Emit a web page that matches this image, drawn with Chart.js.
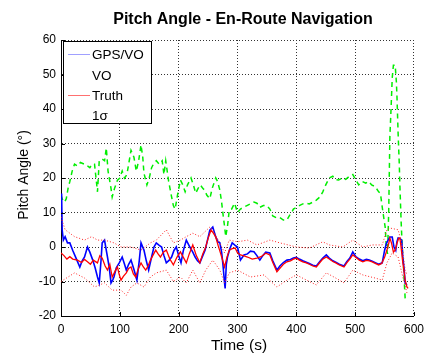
<!DOCTYPE html>
<html>
<head>
<meta charset="utf-8">
<script src="https://cdn.jsdelivr.net/npm/chart.js@4/dist/chart.umd.min.js"></script>
<style>
  html, body { margin: 0; padding: 0; background: #fff; }
  #wrap { width: 430px; height: 361px; }
</style>
</head>
<body>
<div id="wrap"><canvas id="c" width="430" height="361"></canvas></div>
<script>
// Pitch angle during en-route navigation (degrees vs seconds)
const xTicks = [0, 100, 200, 300, 400, 500, 600];
const yTicks = [-20, -10, 0, 10, 20, 30, 40, 50, 60];
const legendLabels = ['GPS/VO', 'VO', 'Truth', '1\u03c3'];

// Truth
const truthT = [0,5,10,15,20,28,35,40,45,50,55,62,66,70,75,79,83,87,92,96,99,102,106,111,115,119,123,127,131,136,140,144,148,152,156,161,165,169,174,179,185,191,197,203,208,213,218,224,230,236,241,246,250,255,259,263,267,271,275,278,282,286,291,296,300,305,311,317,325,333,340,348,355,360,367,372,378,384,390,395,400,405,411,417,422,428,434,440,445,451,456,462,467,473,481,486,491,496,501,507,513,519,524,529,535,540,545,550,554,557,559,562,565,568,571,574,576,578,581,583,585,588,590];
const truthV = [-1.7,-2.5,-3.5,-2.8,-3.5,-3.8,-4.5,-3.6,-4.3,-5,-3.8,-4.6,-2.5,-3.2,-5.5,-6.7,-5,-8.7,-7,-5.8,-8,-9.6,-8.5,-7.5,-6.2,-5.8,-7.8,-8.7,-6.5,-4.6,-5.8,-6.7,-5.5,-3.8,-2.5,-0.9,-2,-2.9,-1.5,-0.9,-3.5,-5.2,-3,-1.4,-3,-4.6,-2,0.6,-2.5,-4.6,-2,0,2.5,4.9,4,2.9,0.5,-1.7,-4,-5.8,-3,-0.9,-0.5,-0.3,-1.7,-2.3,-2.6,-2.9,-3.5,-3.2,-2.8,-1.8,-2.3,-4.5,-7.2,-6.2,-5,-4.3,-4,-3.5,-3.2,-3.8,-4.3,-4.6,-5,-5.5,-5.8,-4.5,-3.5,-2.9,-3.5,-4.2,-4.6,-5.2,-5.8,-4.5,-3.5,-2.3,-3,-3.8,-4.3,-3.9,-4,-4.3,-4.8,-5.2,-4.8,-3,-0.9,1,2.6,1,-1.5,-0.9,1,2.6,2.6,0,-4.6,-7,-9.6,-11.6,-12];

// GPS/VO estimate
const gpsT = [1,2,4,7,11,15,20,25,32,36,40,45,49,54,58,62,65,68,70,74,76,79,82,85,88,90,94,99,104,108,111,115,119,124,129,133,136,141,145,149,154,158,162,167,171,175,179,184,188,192,196,200,204,208,213,219,224,228,232,236,241,245,249,253,258,263,267,270,273,275,278,279,281,283,287,291,296,300,305,311,317,322,328,333,338,343,348,355,360,367,372,378,384,390,395,400,405,411,417,422,428,434,440,445,451,456,462,467,473,481,486,491,496,501,507,513,519,524,529,535,540,546,550,553,556,559,563,566,569,571,573,576,579,581,583,585,588];
const gpsV = [15.5,5,2,3,1.2,1.2,-1,-3,-5.8,-4,-2.9,0,-1.5,-3.8,-6,-8.7,-10.4,-4,1.2,2,0,-2.9,-6,-10.4,-9.5,-8.7,-6,-4.6,-2.9,-5,-6.7,-5,-3.8,-6.5,-9.6,-4,1.2,-0.9,-4,-6.7,-2.9,0,1.2,0.5,0,-2.5,-4.6,-3.8,-2.9,-1,0,-2.5,-4.6,-1,2,0,-1.5,-2.9,-4,-4.6,-2.5,-0.9,2,4.9,5.8,2.9,1.5,1.2,-1.5,-4.6,-10.4,-12,-5,-2.9,-0.5,1.2,0.5,0,-3.8,-2.3,-2,-1.2,-1.4,-2.5,-3.8,-2.5,-1.5,-1.7,-4,-6.7,-5.5,-4.5,-3.8,-3.6,-3.2,-3,-3.5,-4,-4.4,-4.8,-5.3,-5.5,-4.2,-3.2,-2.3,-3.2,-4,-4.4,-5,-5.5,-4.2,-3.2,-1.4,-2.8,-3.5,-4,-3.6,-3.8,-4.1,-4.6,-5,-4.6,-1,1,2,2.9,2.9,0,-1,1.5,2.6,2.5,2,-3,-6,-10.4,-11];

// VO only
const voT = [0,3,6,9,12,15,19,23,28,33,40,45,49,53,57,62,65,70,74,77,80,82,85,87,91,96,100,104,108,112,116,119,124,128,132,136,139,141,146,150,154,157,162,167,172,175,178,183,188,191,194,198,203,207,211,215,221,225,229,233,237,241,244,248,253,257,263,266,270,273,275,278,280,283,286,290,295,300,305,310,316,322,328,333,338,344,350,355,360,367,372,378,384,388,392,395,400,405,411,417,422,428,434,440,445,450,456,462,467,472,478,484,490,496,501,506,512,518,523,528,534,540,543,546,549,551,553,555,557,559,561,563,565,568,570,571,573,575,576,578,580,582,585,587];
const voV = [15,13.6,13,14,17,19,22,24,23.5,24.5,24,23.5,23,24,24,16,25,25.5,25,28.7,22,20,17,14.5,17,19.4,20,22,20,21,25,28,26,22,25,29.6,26,21.4,18,20,23,24,25,24,25,21,25,19,14.5,12,11,15,19.4,18,16,18,20,18,15.6,17,18,17,16.5,15,14,17,20,19,16.5,13,10,6,3,6,10.7,11,12.7,10,11,11.5,12,12.5,13,12.7,11.5,12,12,11,9,8.4,8.5,7.8,7.8,9,10,11,11.5,12,12.5,12.7,12.5,13,13.6,14.5,16,18,20,20.5,19.5,19.4,20,19.6,20.5,21,19.5,18,19,18.5,19,18,17.5,16,15.5,11.6,8,5.8,0,-2,10,32,40,49,52.7,52.7,48,44,33,24,18,8,0,-5,-15,-16];

// 1-sigma bounds
const sigUpT = [0,7,23,40,52,62,74,90,102,119,136,152,162,179,191,203,213,224,236,253,258,270,278,286,300,317,333,355,372,400,422,445,456,479,496,513,529,546,554,559,573,579,585,588];
const sigUpV = [8.7,5,3,2,3,2,2,1.2,0,0,-0.9,1.2,2,5,1.2,2,3,4,3,5.8,5,1.2,-1.7,2,1.5,2,0.6,2,1.2,0,-0.3,1.5,0.6,0,2,0,0.6,0.6,5,5.5,5,1.2,-6.7,-8];
const sigLoT = [0,12,23,40,57,74,87,102,111,119,129,141,152,162,179,191,203,213,224,236,246,258,270,278,286,300,322,345,367,384,400,422,434,451,467,481,496,513,534,546,554,563,573,581,588];
const sigLoV = [-10,-8.7,-7.5,-9,-11.6,-10.4,-12.5,-12.5,-14,-11.6,-10.4,-11.6,-8.7,-7.5,-6.7,-10,-8.7,-10.4,-6.7,-10.4,-6.7,-3.8,-6.7,-10.4,-7.5,-6.7,-8.7,-8.1,-11.6,-9.6,-8.1,-10,-11,-7.5,-9,-10.4,-6.7,-8.1,-9,-9.6,-4.6,-1.7,-2.9,-8.7,-13.3];

const pts = (t, v) => t.map((x, i) => ({ x: x, y: v[i] }));
const FONT = '"Liberation Sans", Arial, Helvetica, sans-serif';

// Titles, inward tick marks and the legend box
const decor = {
  id: 'decor',
  afterDraw(chart) {
    const ctx = chart.ctx;
    const a = chart.chartArea;
    const xs = chart.scales.x, ys = chart.scales.y;
    ctx.save();
    // inward tick marks
    ctx.strokeStyle = '#000';
    ctx.lineWidth = 1;
    ctx.beginPath();
    yTicks.forEach(v => {
      const y = Math.round(ys.getPixelForValue(v)) + 0.5;
      ctx.moveTo(a.left, y); ctx.lineTo(a.left + 4, y);
    });
    xTicks.forEach(v => {
      const x = Math.round(xs.getPixelForValue(v)) + 0.5;
      ctx.moveTo(x, a.bottom); ctx.lineTo(x, a.bottom - 4);
    });
    ctx.stroke();

    // title
    ctx.fillStyle = '#000';
    ctx.textAlign = 'center';
    ctx.textBaseline = 'alphabetic';
    ctx.font = 'bold 16px ' + FONT;
    ctx.fillText('Pitch Angle - En-Route Navigation', 243, 24);
    // axis titles
    ctx.textBaseline = 'middle';
    ctx.font = '15.5px ' + FONT;
    ctx.fillText('Time (s)', 239, 346);
    ctx.save();
    ctx.translate(24, 175);
    ctx.rotate(-Math.PI / 2);
    ctx.font = '14px ' + FONT;
    ctx.fillText('Pitch Angle (\u00b0)', 0, 0);
    ctx.restore();

    // legend
    const bx = 63.5, by = 41.5, bw = 88, bh = 82;
    ctx.fillStyle = '#fff';
    ctx.fillRect(bx, by, bw, bh);
    ctx.strokeStyle = '#000';
    ctx.lineWidth = 1;
    ctx.strokeRect(bx, by, bw, bh);
    const rows = [
      { y: 54, color: '#a0a0ff' },
      { y: 75, color: null },
      { y: 95, color: '#ff7070' },
      { y: 115, color: null }
    ];
    ctx.font = '13.5px ' + FONT;
    ctx.textAlign = 'left';
    rows.forEach((r, i) => {
      if (r.color) {
        ctx.strokeStyle = r.color;
        ctx.beginPath();
        ctx.moveTo(68, r.y + 0.5); ctx.lineTo(90, r.y + 0.5);
        ctx.stroke();
      }
      ctx.fillStyle = '#000';
      ctx.fillText(legendLabels[i], 92, r.y + 1);
    });
    ctx.restore();
  }
};

new Chart(document.getElementById('c'), {
  type: 'line',
  data: {
    datasets: [
      { label: '1\u03c3 upper', data: pts(sigUpT, sigUpV), borderColor: '#ff2020', borderWidth: 1, borderDash: [1, 2] },
      { label: '1\u03c3 lower', data: pts(sigLoT, sigLoV), borderColor: '#ff2020', borderWidth: 1, borderDash: [1, 2] },
      { label: legendLabels[2], data: pts(truthT, truthV), borderColor: '#ff0000', borderWidth: 1.3 },
      { label: legendLabels[0], data: pts(gpsT, gpsV), borderColor: '#0000ff', borderWidth: 1.6 },
      { label: legendLabels[1], data: pts(voT, voV), borderColor: '#00ee00', borderWidth: 1.5, borderDash: [5, 4] }
    ]
  },
  options: {
    responsive: false,
    animation: false,
    devicePixelRatio: 1,
    layout: { padding: { left: 0, top: 40, right: 11, bottom: 0 } },
    elements: { point: { radius: 0 }, line: { tension: 0 } },
    plugins: { legend: { display: false }, title: { display: false }, tooltip: { enabled: false } },
    scales: {
      x: {
        type: 'linear', min: 0, max: 600,
        afterFit(s) { s.height = 45; },
        afterBuildTicks(s) { s.ticks = xTicks.map(v => ({ value: v })); },
        ticks: { color: '#000', font: { family: FONT, size: 12 }, padding: 6, maxRotation: 0 },
        grid: { color: '#333', lineWidth: 1, drawTicks: false },
        border: { display: true, color: '#000', width: 1, dash: [1, 2] }
      },
      y: {
        type: 'linear', min: -20, max: 60,
        afterFit(s) { s.width = 61; },
        afterBuildTicks(s) { s.ticks = yTicks.map(v => ({ value: v })); },
        ticks: { color: '#000', font: { family: FONT, size: 12 }, padding: 5 },
        grid: { color: '#333', lineWidth: 1, drawTicks: false },
        border: { display: true, color: '#000', width: 1, dash: [1, 2] }
      }
    }
  },
  plugins: [decor]
});
</script>
</body>
</html>
